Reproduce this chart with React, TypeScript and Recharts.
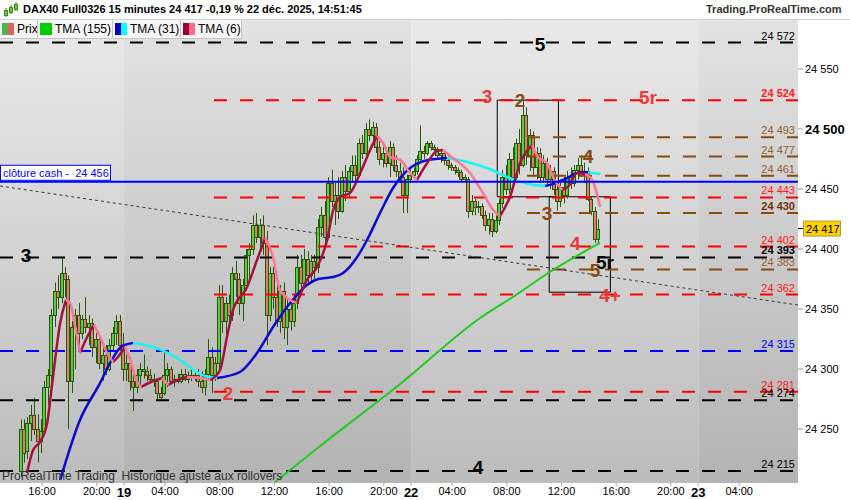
import {
  ComposedChart,
  Bar,
  Line,
  XAxis,
  YAxis,
  ReferenceLine,
  ReferenceArea,
  ReferenceDot,
} from "recharts";

const FONT = '"Liberation Sans", Arial, Helvetica, sans-serif';

// 15 minute bars [open, high, low, close], index 0 = 19 déc. 01:00
const day18Start = -30;
const day18Bars = [
  [24215, 24258, 24210, 24250], [24250, 24258, 24222, 24230], [24232, 24260, 24225, 24255],
  [24255, 24270, 24240, 24262], [24262, 24276, 24245, 24250], [24250, 24262, 24222, 24240],
  [24240, 24258, 24230, 24248], [24248, 24290, 24245, 24285], [24285, 24300, 24270, 24295],
  [24295, 24350, 24290, 24345], [24345, 24372, 24335, 24365], [24365, 24378, 24350, 24360],
  [24360, 24393, 24355, 24380], [24380, 24385, 24360, 24375], [24375, 24378, 24250, 24290],
  [24290, 24340, 24280, 24335], [24335, 24350, 24300, 24345], [24345, 24355, 24320, 24330],
  [24330, 24345, 24325, 24342], [24342, 24360, 24330, 24335], [24335, 24345, 24320, 24338],
  [24338, 24342, 24310, 24318], [24318, 24330, 24305, 24325], [24325, 24328, 24300, 24305],
  [24305, 24318, 24290, 24312], [24312, 24320, 24295, 24300], [24300, 24325, 24298, 24320],
  [24320, 24335, 24315, 24330], [24330, 24345, 24320, 24340], [24340, 24345, 24315, 24320],
];
const day19Start = 0;
const day19Bars = [
  [24320, 24330, 24290, 24300], [24300, 24312, 24290, 24305], [24305, 24310, 24282, 24290],
  [24290, 24295, 24265, 24285], [24285, 24300, 24280, 24295], [24295, 24305, 24285, 24300],
  [24300, 24312, 24292, 24298], [24298, 24302, 24290, 24295], [24295, 24300, 24288, 24292],
  [24292, 24296, 24285, 24290], [24290, 24292, 24275, 24280], [24280, 24285, 24275, 24277],
  [24280, 24315, 24278, 24295], [24295, 24305, 24285, 24300], [24300, 24302, 24288, 24290],
  [24290, 24295, 24285, 24292], [24292, 24296, 24288, 24290], [24290, 24300, 24288, 24296],
  [24296, 24300, 24290, 24292], [24292, 24298, 24288, 24295], [24295, 24300, 24290, 24293],
  [24293, 24297, 24290, 24295], [24295, 24300, 24285, 24290], [24290, 24298, 24280, 24285],
  [24285, 24300, 24278, 24296], [24296, 24325, 24290, 24310], [24310, 24318, 24280, 24295],
  [24295, 24310, 24290, 24305], [24305, 24370, 24300, 24360], [24360, 24370, 24330, 24340],
  [24340, 24360, 24320, 24355], [24355, 24362, 24335, 24345], [24345, 24385, 24340, 24380],
  [24380, 24390, 24360, 24375], [24375, 24380, 24345, 24355], [24355, 24375, 24340, 24370],
  [24370, 24400, 24365, 24395], [24395, 24405, 24375, 24400], [24400, 24428, 24395, 24420],
  [24420, 24430, 24405, 24410], [24410, 24425, 24400, 24420], [24420, 24428, 24395, 24405],
  [24405, 24415, 24320, 24345], [24345, 24385, 24340, 24380], [24380, 24385, 24350, 24360],
  [24360, 24372, 24335, 24340], [24340, 24370, 24330, 24365], [24365, 24372, 24325, 24335],
  [24335, 24360, 24320, 24350], [24350, 24358, 24332, 24340], [24340, 24362, 24335, 24355],
  [24355, 24395, 24350, 24385], [24385, 24395, 24365, 24372], [24372, 24400, 24370, 24392],
  [24392, 24398, 24370, 24378], [24378, 24395, 24372, 24390], [24390, 24395, 24375, 24385],
  [24385, 24425, 24380, 24418], [24418, 24435, 24410, 24428], [24428, 24440, 24405, 24410],
  [24410, 24460, 24408, 24455], [24455, 24466, 24435, 24440], [24440, 24455, 24420, 24445],
  [24445, 24460, 24425, 24432], [24432, 24465, 24430, 24460], [24460, 24470, 24440, 24448],
  [24448, 24468, 24442, 24465], [24465, 24478, 24455, 24470], [24470, 24478, 24455, 24462],
  [24462, 24492, 24460, 24488], [24488, 24495, 24475, 24480], [24480, 24505, 24478, 24500],
  [24500, 24508, 24490, 24495], [24495, 24506, 24488, 24502], [24502, 24505, 24480, 24485],
  [24485, 24490, 24470, 24475], [24475, 24485, 24468, 24480], [24480, 24485, 24468, 24472],
  [24472, 24490, 24460, 24485], [24485, 24488, 24465, 24470], [24470, 24478, 24460, 24465],
  [24465, 24472, 24455, 24460], [24460, 24468, 24430, 24445], [24445, 24462, 24430, 24458],
];
const day22Start = 84;
const day22Bars = [
  [24458, 24466, 24455, 24462], [24462, 24468, 24458, 24465], [24465, 24478, 24462, 24475],
  [24475, 24503, 24472, 24482], [24482, 24486, 24475, 24480], [24480, 24490, 24478, 24488],
  [24488, 24490, 24482, 24485], [24485, 24487, 24480, 24483], [24483, 24485, 24476, 24478],
  [24478, 24482, 24472, 24480], [24480, 24482, 24470, 24474], [24474, 24477, 24466, 24470],
  [24470, 24472, 24465, 24468], [24468, 24470, 24462, 24466], [24466, 24468, 24460, 24464],
  [24464, 24466, 24456, 24458], [24458, 24462, 24455, 24460], [24458, 24460, 24426, 24432],
  [24432, 24445, 24428, 24440], [24440, 24442, 24428, 24435], [24435, 24440, 24430, 24436],
  [24436, 24438, 24425, 24428], [24428, 24432, 24415, 24420], [24420, 24430, 24412, 24425],
  [24425, 24430, 24410, 24415], [24415, 24428, 24413, 24424], [24424, 24442, 24420, 24438],
  [24438, 24466, 24434, 24460], [24460, 24470, 24445, 24450], [24450, 24480, 24446, 24475],
  [24475, 24485, 24450, 24460], [24460, 24492, 24455, 24488], [24488, 24500, 24462, 24470],
  [24470, 24524, 24468, 24512], [24512, 24518, 24470, 24478], [24478, 24500, 24465, 24495],
  [24495, 24498, 24460, 24468], [24468, 24485, 24458, 24480], [24480, 24484, 24455, 24460],
  [24460, 24478, 24455, 24472], [24472, 24476, 24452, 24458], [24458, 24470, 24450, 24465],
  [24465, 24468, 24445, 24450], [24450, 24455, 24432, 24440], [24440, 24458, 24435, 24452],
  [24452, 24460, 24438, 24445], [24445, 24465, 24442, 24460], [24460, 24468, 24450, 24455],
  [24455, 24470, 24452, 24466], [24466, 24476, 24458, 24470], [24470, 24478, 24460, 24462],
  [24462, 24472, 24455, 24465], [24465, 24468, 24440, 24442], [24442, 24444, 24428, 24432],
  [24432, 24435, 24405, 24408], [24408, 24425, 24405, 24417],
];

// moving averages: [bar index, value]
const tma155 = [
  [44.2, 24205.8], [59.7, 24241], [80.8, 24287.5], [104.2, 24342.5],
  [113.8, 24360], [125.5, 24382.5], [139.3, 24405],
];
const tma31Up = [
  [[-18.7, 24207.5], [-12.9, 24257.5], [-7, 24288.4], [-4.1, 24305], [-0.6, 24319], [2.6, 24321.7]],
  [[27.2, 24292.5], [33.9, 24297.5], [38.9, 24313.3], [43.6, 24335], [48.6, 24355], [53.5, 24370],
   [56.8, 24375], [61.2, 24376.7], [64.1, 24380], [68.2, 24393.3], [71.1, 24407.5], [74.9, 24430],
   [78.7, 24450.8], [83.7, 24467.5], [88.7, 24474], [94.5, 24475.8]],
  [[123.2, 24452.5], [125.5, 24454], [129.6, 24459], [133.4, 24464], [135.8, 24464]],
];
const tma31Down = [
  [[2.6, 24321.7], [8.5, 24318.3], [12.3, 24314], [17.3, 24305.8], [22.2, 24295.8], [27.2, 24292.5]],
  [[94.5, 24475.8], [100.4, 24472.5], [106.2, 24467.5], [112.1, 24460], [118.8, 24454], [123.2, 24452.5]],
  [[135.8, 24464], [139.3, 24462.5]],
];
const tma6Up = [
  [[-28.4, 24213.3], [-26.6, 24232.5], [-24.6, 24239.2], [-22.5, 24255], [-20.8, 24293.3], [-18.7, 24338.3], [-17, 24357.5]],
  [[-12.9, 24313.3], [-10.8, 24326.7], [-8.8, 24336.7]],
  [[-3.2, 24305.8], [-1.8, 24310], [0.3, 24318.3]],
  [[5, 24285], [8.5, 24290], [11.1, 24292.5]],
  [[12.9, 24286.7], [16.4, 24291.7], [18.4, 24293.3]],
  [[25.2, 24290.8], [28.1, 24299.2], [30.1, 24326.7], [31.9, 24349.2], [36, 24368.3], [38.9, 24390.8], [41.3, 24409.2]],
  [[50.6, 24355], [53.5, 24374.2], [56.5, 24385], [59.4, 24407.5], [61.2, 24432.5], [63.2, 24443.3],
   [66.1, 24446.7], [69.1, 24463.3], [72, 24482.5], [74, 24494.2]],
  [[85.7, 24457.5], [88.7, 24471.7], [91.6, 24481.7], [93.3, 24482.5]],
  [[110, 24427.5], [112.9, 24443.3], [115.9, 24471.7], [119.4, 24486.7]],
  [[128.2, 24449.2], [129.9, 24451.7], [132.6, 24463.3], [134.9, 24462.5]],
];
const tma6Down = [
  [[-17, 24357.5], [-15.8, 24355], [-14.3, 24335], [-12.9, 24313.3]],
  [[-8.8, 24336.7], [-7, 24326.7], [-5, 24313.3], [-3.2, 24305.8]],
  [[0.3, 24318.3], [1.8, 24307.5], [3.8, 24289.2], [5, 24285]],
  [[11.1, 24292.5], [12.9, 24286.7]],
  [[18.4, 24293.3], [22.2, 24292.5], [25.2, 24290.8]],
  [[41.3, 24409.2], [43.6, 24393.3], [45.6, 24365.8], [48.6, 24357.5], [50.6, 24355]],
  [[74, 24494.2], [75.8, 24488.3], [77.8, 24476.7], [80.8, 24474.2], [83.7, 24463.3], [85.7, 24457.5]],
  [[93.3, 24482.5], [95.4, 24477.5], [101.2, 24463.3], [105, 24446.7], [108, 24432.5], [110, 24427.5]],
  [[119.4, 24486.7], [121.1, 24476.7], [123.8, 24471.7], [125.5, 24460], [128.2, 24449.2]],
  [[134.9, 24462.5], [137, 24457.5], [139.3, 24435]],
];

// horizontal levels
const blackLevels = [24572, 24393, 24274, 24215];
const redLevels = [24524, 24443, 24402, 24362, 24281];
const brownLevels = [24493, 24477, 24461, 24430, 24383];
const blueLevels = [24315];
const boldLevels = [24524, 24430, 24393];
const cashClose = 24456;
const lastPrice = 24417;
const redFrom = 26.3;
const brownFrom = 117.9;
const trendLine = [[-36.3, 24452.5], [197.2, 24353.3]];
const boxes = [
  [109.2, 127.1, 24443.5, 24524],
  [124.4, 142.3, 24364, 24443.5],
];

// big wave labels [text, bar index, value, colour]
const waveLabels: [string, number, number, string][] = [
  ["5", 121.7, 24571, "#000"],
  ["3", 106.2, 24527.5, "#e83c3c"],
  ["2", 115.9, 24524, "#8b4a12"],
  ["5r", 153.3, 24526.7, "#e83c3c"],
  ["4", 135.8, 24477.5, "#8b4a12"],
  ["3", 123.8, 24430, "#8b4a12"],
  ["4", 132, 24405, "#e83c3c"],
  ["5r", 140.7, 24389, "#000"],
  ["5", 137.8, 24382.5, "#8b4a12"],
  ["4+", 142.2, 24361.7, "#e83c3c"],
  ["3", -28.7, 24395, "#000"],
  ["2", 30.4, 24280, "#e83c3c"],
  ["4", 103.6, 24218, "#000"],
];

const xDomain = [-36.3, 197.2];
const yDomain = [24205, 24590.8];
const dayEdges = [-36.3, 0, 84, 168, 197.2];
const timeTicks = [-24, -8, 0, 12, 28, 44, 60, 76, 84, 96, 112, 128, 144, 160, 168, 180];
const timeLabels = ["16:00", "20:00", "19", "04:00", "08:00", "12:00", "16:00", "20:00", "22", "04:00", "08:00", "12:00", "16:00", "20:00", "23", "04:00"];
const priceTicks = [24250, 24300, 24350, 24400, 24417, 24450, 24500, 24550];

const toBars = (start: number, rows: number[][]) =>
  rows.map((r, k) => ({ i: start + k, o: r[0], h: r[1], l: r[2], c: r[3] }));
const candles = [
  ...toBars(day18Start, day18Bars),
  ...toBars(day19Start, day19Bars),
  ...toBars(day22Start, day22Bars),
];
const pts = (seg: number[][]) => seg.map(([i, v]) => ({ i, v }));
const fmt = (v: number) => `${Math.floor(v / 1000)} ${String(Math.round(v) % 1000).padStart(3, "0")}`;

function Candle(props: any) {
  const { x, y, width, height, payload } = props;
  if (!payload || height == null) return null;
  const { o, h, l, c } = payload;
  const px = Math.round(x + width / 2);
  const span = h - l || 1;
  const yOf = (v: number) => y + ((h - v) / span) * height;
  const top = Math.round(yOf(Math.max(o, c))) + 0.5;
  const bot = Math.round(yOf(Math.min(o, c))) + 0.5;
  return (
    <g>
      <line x1={px - 0.5} x2={px - 0.5} y1={y} y2={y + height} stroke="#2a560e" strokeWidth={1} />
      <rect
        x={px - 2.5}
        y={top}
        width={3}
        height={Math.max(bot - top, 1)}
        fill={c >= o ? "#56cf3e" : "#e07c68"}
        stroke="#2a560e"
        strokeWidth={1}
      />
    </g>
  );
}

function PriceTick(props: any) {
  const { x, y, payload } = props;
  const v = payload.value;
  if (v === lastPrice) {
    return (
      <g>
        <line x1={x - 7} x2={x - 2} y1={y} y2={y} stroke="#000" />
        <rect x={x - 1.5} y={y - 7.5} width={37} height={15} fill="#ffd000" stroke="#b39a40" />
        <text x={x + 1} y={y} dy="0.36em" fontSize={11} fontFamily={FONT} fill="#000">
          {fmt(v)}
        </text>
      </g>
    );
  }
  const bold = v === 24500;
  return (
    <text
      x={x}
      y={y}
      dy="0.36em"
      fontSize={bold ? 13 : 11}
      fontWeight={bold ? "bold" : "normal"}
      fontFamily={FONT}
      fill="#000"
    >
      {fmt(v)}
    </text>
  );
}

function TimeTick(props: any) {
  const { x, y, payload } = props;
  const k = timeTicks.indexOf(payload.value);
  const label = timeLabels[k] ?? "";
  const isDay = !label.includes(":");
  return (
    <text
      x={x}
      y={y}
      dy="0.85em"
      textAnchor="middle"
      fontSize={isDay ? 13 : 11}
      fontWeight={isDay ? "bold" : "normal"}
      fontFamily={FONT}
      fill="#000"
    >
      {label}
    </text>
  );
}

function CashLabel(props: any) {
  const vb = props.viewBox || {};
  const y = vb.y ?? 0;
  return (
    <g>
      <rect x={0.5} y={y - 16.5} width={110} height={15} fill="#fff" stroke="#0000ff" />
      <text x={3} y={y - 9} dy="0.36em" fontSize={11} fontFamily={FONT} fill="#0000ff">
        {`clôture cash -\u00a0\u00a0${fmt(cashClose)}`}
      </text>
    </g>
  );
}

function levelLine(v: number, from: number, stroke: string, textColor: string, key: string) {
  const bold = boldLevels.includes(v);
  return (
    <ReferenceLine
      key={key}
      segment={[{ x: from, y: v }, { x: xDomain[1], y: v }]}
      stroke={stroke}
      strokeWidth={2}
      strokeDasharray="13 13"
      label={{
        value: fmt(v),
        position: "insideBottomRight",
        offset: 3,
        fill: textColor,
        fontSize: 11,
        fontWeight: bold ? "bold" : "normal",
        fontFamily: FONT,
      }}
    />
  );
}

function LegendItem({ colors, text, width }: { colors: string[]; text: string; width: number }) {
  return (
    <div
      style={{
        width,
        height: 19,
        boxSizing: "border-box",
        borderRight: "1px solid #c4c4c4",
        borderBottom: "1px solid #c4c4c4",
        background: "#f6f6f6",
        display: "flex",
        alignItems: "center",
        paddingLeft: 2,
        gap: 3,
        fontSize: 12,
        whiteSpace: "nowrap",
        overflow: "hidden",
      }}
    >
      <span style={{ display: "flex", flexShrink: 0 }}>
        {colors.map((c, k) => (
          <span key={k} style={{ width: 6, height: 12, background: c, display: "inline-block" }} />
        ))}
      </span>
      <span>{text}</span>
    </div>
  );
}

export default function App() {
  return (
    <div
      style={{
        position: "absolute",
        left: 0,
        top: 0,
        width: 850,
        height: 500,
        background: "#fff",
        fontFamily: FONT,
        overflow: "hidden",
      }}
    >
      <ComposedChart
        width={850}
        height={500}
        data={candles}
        margin={{ top: 20, right: 0, bottom: 0, left: 0 }}
      >
        <defs>
          <linearGradient id="bgLight" x1="0" y1="0" x2="0" y2="1">
            <stop offset="0%" stopColor="#e9e9e9" />
            <stop offset="100%" stopColor="#bcbcbc" />
          </linearGradient>
          <linearGradient id="bgDark" x1="0" y1="0" x2="0" y2="1">
            <stop offset="0%" stopColor="#e2e2e2" />
            <stop offset="100%" stopColor="#b3b3b3" />
          </linearGradient>
        </defs>
        <XAxis
          dataKey="i"
          type="number"
          domain={xDomain}
          allowDataOverflow
          ticks={timeTicks}
          interval={0}
          height={17}
          tickSize={3}
          tickMargin={0}
          axisLine={false}
          tickLine={{ stroke: "#aaa" }}
          tick={<TimeTick />}
        />
        <YAxis
          orientation="right"
          type="number"
          domain={yDomain}
          allowDataOverflow
          ticks={priceTicks}
          interval={0}
          width={52}
          tickSize={5}
          tickMargin={2}
          axisLine={false}
          tickLine={{ stroke: "#999" }}
          tick={<PriceTick />}
        />
        {dayEdges.slice(0, -1).map((x1, k) => (
          <ReferenceArea
            key={`day${k}`}
            x1={x1}
            x2={dayEdges[k + 1]}
            y1={yDomain[0]}
            y2={yDomain[1]}
            fill={k % 2 === 0 ? "url(#bgLight)" : "url(#bgDark)"}
            fillOpacity={1}
            stroke="none"
          />
        ))}
        <Bar
          dataKey={(d: any) => [d.l, d.h]}
          barSize={3}
          shape={<Candle />}
          isAnimationActive={false}
        />
        {blackLevels.map((v) => levelLine(v, xDomain[0], "#000", "#000", `k${v}`))}
        {redLevels.map((v) => levelLine(v, redFrom, "#ff0000", "#ff1a1a", `r${v}`))}
        {brownLevels.map((v) => levelLine(v, brownFrom, "#8a4b0f", v === 24430 ? "#6a3608" : "#92602e", `b${v}`))}
        {blueLevels.map((v) => levelLine(v, xDomain[0], "#0000ff", "#0000ff", `u${v}`))}
        <ReferenceLine
          segment={[{ x: trendLine[0][0], y: trendLine[0][1] }, { x: trendLine[1][0], y: trendLine[1][1] }]}
          stroke="#3a3a3a"
          strokeWidth={1}
          strokeDasharray="3 3"
        />
        {boxes.map((b, k) => (
          <ReferenceArea
            key={`box${k}`}
            x1={b[0]}
            x2={b[1]}
            y1={b[2]}
            y2={b[3]}
            fill="none"
            fillOpacity={0}
            stroke="#000"
            strokeWidth={1}
          />
        ))}
        <Line data={pts(tma155)} dataKey="v" type="monotone" stroke="#1fcc1f" strokeWidth={2} dot={false} isAnimationActive={false} />
        {tma31Up.map((s, k) => (
          <Line key={`bu${k}`} data={pts(s)} dataKey="v" type="monotone" stroke="#0a0ad2" strokeWidth={2.5} dot={false} isAnimationActive={false} />
        ))}
        {tma31Down.map((s, k) => (
          <Line key={`bd${k}`} data={pts(s)} dataKey="v" type="monotone" stroke="#19f5f5" strokeWidth={2.5} dot={false} isAnimationActive={false} />
        ))}
        {tma6Up.map((s, k) => (
          <Line key={`ru${k}`} data={pts(s)} dataKey="v" type="monotone" stroke="#a3123f" strokeWidth={2.5} dot={false} isAnimationActive={false} />
        ))}
        {tma6Down.map((s, k) => (
          <Line key={`rd${k}`} data={pts(s)} dataKey="v" type="monotone" stroke="#ff7596" strokeWidth={2.5} dot={false} isAnimationActive={false} />
        ))}
        <ReferenceLine y={cashClose} stroke="#0000ff" strokeWidth={2} label={<CashLabel />} />
        {waveLabels.map(([t, i, v, col], k) => (
          <ReferenceDot
            key={`w${k}`}
            x={i}
            y={v}
            r={0}
            fill="none"
            stroke="none"
            label={{
              value: t,
              position: "center",
              fill: col,
              fontSize: 19,
              fontWeight: "bold",
              fontFamily: FONT,
            }}
          />
        ))}
      </ComposedChart>

      {/* title bar */}
      <div
        style={{
          position: "absolute",
          left: 0,
          top: 0,
          width: 850,
          height: 20,
          background: "#fff",
          borderBottom: "1px solid #d0d0d0",
          boxSizing: "border-box",
        }}
      >
        <svg width={16} height={16} style={{ position: "absolute", left: 3, top: 2 }}>
          <line x1={3} x2={3} y1={6} y2={15} stroke="#3a8a1a" />
          <rect x={1.5} y={8.5} width={3} height={5} fill="#6c3" stroke="#3a8a1a" />
          <line x1={8} x2={8} y1={3} y2={12} stroke="#3a8a1a" />
          <rect x={6.5} y={5.5} width={3} height={5} fill="#6c3" stroke="#3a8a1a" />
          <line x1={13} x2={13} y1={0} y2={9} stroke="#3a8a1a" />
          <rect x={11.5} y={2.5} width={3} height={5} fill="#6c3" stroke="#3a8a1a" />
        </svg>
        <span
          style={{ position: "absolute", left: 23, top: 3, fontSize: 11, fontWeight: "bold", whiteSpace: "nowrap" }}
        >
          DAX40 Full0326 15 minutes 24 417 -0,19 % 22 déc. 2025, 14:51:45
        </span>
        <span
          style={{ position: "absolute", left: 706, top: 3, fontSize: 11, fontWeight: "bold", color: "#333", whiteSpace: "nowrap" }}
        >
          Trading.ProRealTime.com
        </span>
      </div>

      {/* legend bar */}
      <div style={{ position: "absolute", left: 0, top: 20, display: "flex" }}>
        <LegendItem colors={["#4cb84c", "#e06060"]} text="Prix" width={38} />
        <LegendItem colors={["#00cc00", "#00cc00"]} text="TMA (155)" width={75} />
        <LegendItem colors={["#0000cc", "#00ffff"]} text="TMA (31)" width={68} />
        <LegendItem colors={["#990033", "#ff6a8a"]} text="TMA (6)" width={61} />
      </div>

      {/* footer note */}
      <div style={{ position: "absolute", left: 2, top: 469, fontSize: 12, color: "#333", whiteSpace: "pre" }}>
        ProRealTime Trading  Historique ajusté aux rollovers
      </div>
    </div>
  );
}
